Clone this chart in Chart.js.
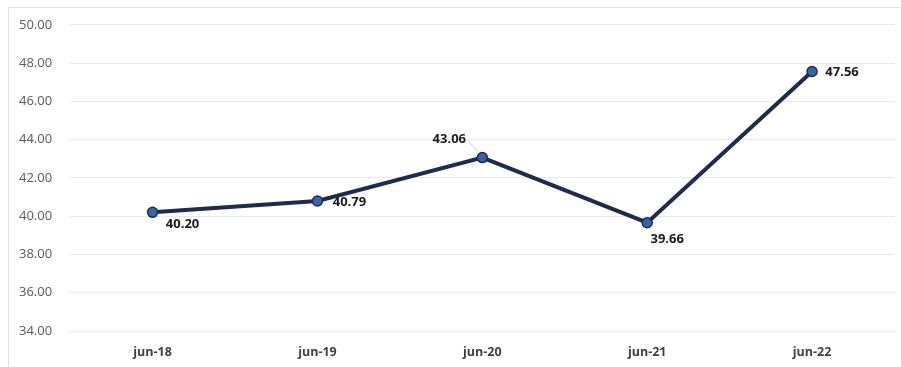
<!DOCTYPE html>
<html>
<head>
<meta charset="utf-8">
<script src="https://cdn.jsdelivr.net/npm/chart.js@4.4.0/dist/chart.umd.min.js"></script>
<style>
  html, body { margin: 0; padding: 0; background: #fff; overflow: hidden; }
  #wrap { position: absolute; left: 8px; top: 7px; width: 893px; height: 367px;
          border-left: 1px solid #e2e2e2; border-top: 1px solid #e2e2e2; box-sizing: border-box; }
  canvas { display: block; }
</style>
</head>
<body>
<div id="wrap"><canvas id="chart" width="892" height="366"></canvas></div>
<script>
/* ---------- DATA ---------- */
const labels = ["jun-18", "jun-19", "jun-20", "jun-21", "jun-22"];
const values = [40.20, 40.79, 43.06, 39.66, 47.56];
const yMin = 34, yMax = 50, yStep = 2;

/* label placement per point: dx, dy from the marker */
const labelOffsets = [[30, 12], [32, 1], [-33, -18], [20, 17], [30, 1]];

/* ---------- PLUGIN: value labels ---------- */
const valueLabels = {
  id: "valueLabels",
  afterDatasetsDraw(chart) {
    const ctx = chart.ctx;
    const meta = chart.getDatasetMeta(0);
    ctx.save();
    ctx.font = "bold 13px 'Open Sans', sans-serif";
    ctx.fillStyle = "#1a1a1a";
    ctx.textAlign = "center";
    ctx.textBaseline = "middle";
    meta.data.forEach((pt, i) => {
      const [dx, dy] = labelOffsets[i];
      if (i === 2) {
        ctx.strokeStyle = "#d0d0d0";
        ctx.lineWidth = 1;
        ctx.beginPath();
        ctx.moveTo(pt.x - 4, pt.y - 5);
        ctx.lineTo(pt.x - 14, pt.y - 17);
        ctx.stroke();
      }
      ctx.fillText(values[i].toFixed(2), pt.x + dx, pt.y + dy);
    });
    ctx.restore();
  }
};

/* ---------- CHART ---------- */
new Chart(document.getElementById("chart"), {
  type: "line",
  data: {
    labels: labels,
    datasets: [{
      data: values,
      borderColor: "#1f2b4d",
      borderWidth: 4,
      pointRadius: 5,
      pointBackgroundColor: "#3a64a8",
      pointBorderColor: "#1f2b4d",
      pointBorderWidth: 1.5,
      tension: 0
    }]
  },
  options: {
    responsive: false,
    animation: false,
    layout: { padding: { left: 10, right: 0, top: 11, bottom: 0 } },
    plugins: { legend: { display: false }, tooltip: { enabled: false } },
    scales: {
      x: {
        offset: true,
        grid: { display: false, drawTicks: false },
        border: { display: false },
        ticks: {
          color: "#404040",
          font: { family: "'Open Sans', sans-serif", size: 12.5, weight: "bold" },
          padding: 14
        }
      },
      y: {
        min: yMin,
        max: yMax,
        grid: { color: "#e8e8e8", drawTicks: false },
        border: { display: false },
        ticks: {
          stepSize: yStep,
          color: "#595959",
          crossAlign: "far",
          padding: 9,
          font: { family: "'Open Sans', sans-serif", size: 13 },
          callback: v => Number(v).toFixed(2)
        }
      }
    }
  },
  plugins: [valueLabels]
});
</script>
</body>
</html>
